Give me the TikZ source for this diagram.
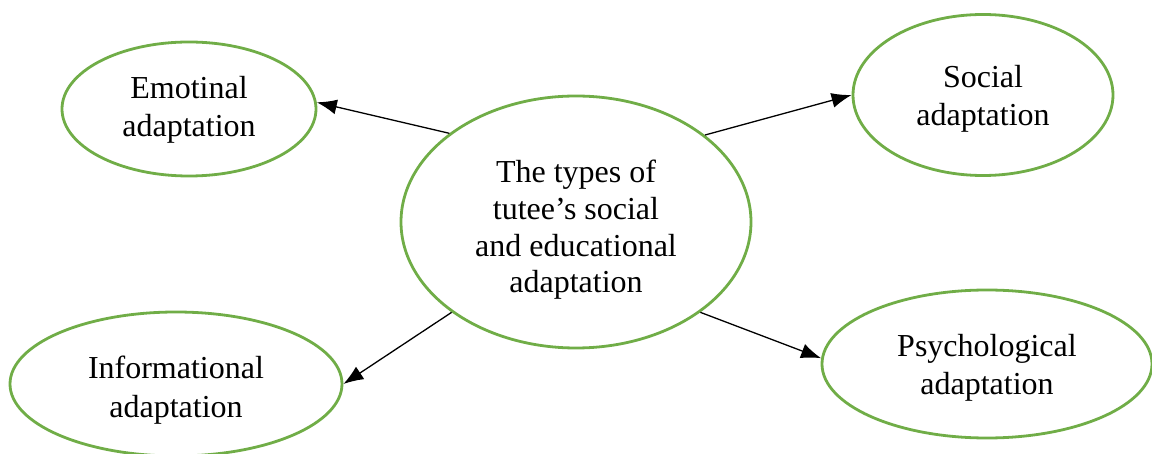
\documentclass[tikz,border=0pt]{standalone}
\usepackage{fontspec}
\setmainfont{Liberation Serif}
\usetikzlibrary{shapes.geometric,arrows.meta}
\definecolor{ogreen}{RGB}{112,173,71}
\begin{document}
\begin{tikzpicture}[x=1pt,y=1pt,
  oval/.style={ellipse,draw=ogreen,line width=2.8pt,inner sep=0pt},
  lbl/.style={align=center,inner sep=0pt,font=\fontsize{32}{38.5}\selectfont},
  conn/.style={draw=black,line width=1.3pt,-{Latex[length=20pt,width=15pt]}}]
\useasboundingbox (0,0) rectangle (1152,-454);
\node[oval,minimum width=350,minimum height=252,
  label={[lbl,font=\fontsize{32}{36.7}\selectfont,yshift=-8]center:The types of\\tutee’s social\\and educational\\adaptation}] (c) at (576,-222) {};
\node[oval,minimum width=254,minimum height=134,
  label={[lbl,yshift=-1]center:Emotinal\\adaptation}] (e) at (189,-109) {};
\node[oval,minimum width=260,minimum height=161,
  label={[lbl,yshift=-4]center:Social\\adaptation}] (s) at (983,-95) {};
\node[oval,minimum width=332,minimum height=144,
  label={[lbl,yshift=-6]center:Informational\\adaptation}] (i) at (176,-384) {};
\node[oval,minimum width=330,minimum height=148,
  label={[lbl,yshift=-4]center:Psychological\\adaptation}] (p) at (987,-364) {};
\draw[conn] (c.145.6) -- (e.3);
\draw[conn] (c.34.4) -- (s.180);
\draw[conn] (c.216.5) -- (i.0);
\draw[conn] (c.-36.3) -- (p.178.6);
\end{tikzpicture}
\end{document}
